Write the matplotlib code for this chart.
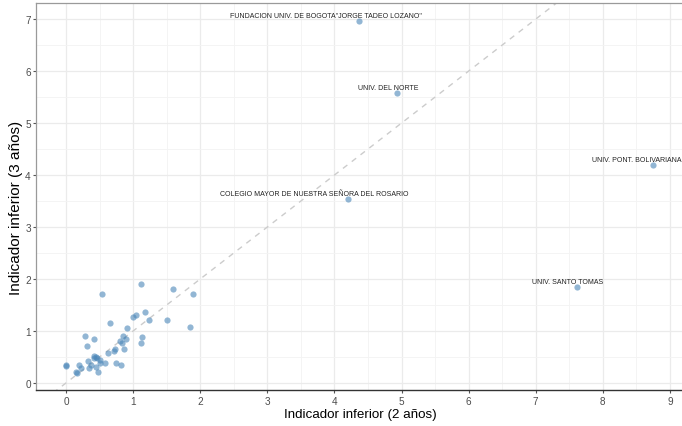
"""Scatter of indicador inferior, 2 vs 3 years
"""

import numpy as np
import matplotlib.pyplot as plt
from matplotlib.ticker import MultipleLocator

# data: unlabelled institutions
x_vals = [0.0, 0.0, 0.16, 0.15, 0.20, 0.23, 0.28, 0.32, 0.33, 0.34, 0.37,
          0.41, 0.42, 0.42, 0.44, 0.46, 0.47, 0.50, 0.51, 0.53, 0.58, 0.63,
          0.65, 0.71, 0.73, 0.75, 0.80, 0.83, 0.82, 0.85, 0.87, 0.90, 0.91,
          1.00, 1.04, 1.12, 1.12, 1.14, 1.17, 1.23, 1.50, 1.60, 1.85, 1.89,
          0.45]
y_vals = [0.32, 0.34, 0.19, 0.21, 0.35, 0.29, 0.90, 0.72, 0.42, 0.28, 0.35,
          0.52, 0.48, 0.85, 0.31, 0.48, 0.22, 0.39, 0.45, 1.72, 0.39, 0.57,
          1.16, 0.61, 0.65, 0.39, 0.81, 0.77, 0.34, 0.90, 0.66, 0.85, 1.05,
          1.27, 1.31, 1.90, 0.76, 0.89, 1.37, 1.21, 1.21, 1.80, 1.08, 1.72,
          0.50]

# labelled institutions
lab_names = ['FUNDACION UNIV. DE BOGOTA"JORGE TADEO LOZANO"',
             'UNIV. DEL NORTE',
             'UNIV. PONT. BOLIVARIANA',
             'COLEGIO MAYOR DE NUESTRA SEÑORA DEL ROSARIO',
             'UNIV. SANTO TOMAS']
lab_x = [4.37, 4.93, 8.75, 4.20, 7.62]
lab_y = [6.96, 5.58, 4.19, 3.54, 1.85]
lab_dx = [-24, -6, -11.5, -24, -7]   # label offsets (points)

point_col = '#4a86b8'
font = 'Liberation Sans'

fig = plt.figure(figsize=(6.82, 4.27), dpi=100)
ax = fig.add_axes([36/682, 1 - 391/427, 648/682, 387/427])

ax.set_xlim(-0.447, 9.21)
ax.set_ylim(-0.135, 7.31)

# grid
ax.xaxis.set_major_locator(MultipleLocator(1))
ax.yaxis.set_major_locator(MultipleLocator(1))
ax.xaxis.set_minor_locator(MultipleLocator(0.5))
ax.yaxis.set_minor_locator(MultipleLocator(0.5))
ax.grid(which='major', color='#ebebeb', lw=0.9)
ax.grid(which='minor', color='#f3f3f3', lw=0.6)
ax.set_axisbelow(True)

# reference line y = x
ref = np.array([-1, 10])
ax.plot(ref, ref, ls=(0, (4, 4)), color='#cccccc', lw=1.0, zorder=1)

all_x = x_vals + lab_x
all_y = y_vals + lab_y
ax.scatter(all_x, all_y, s=20, color=point_col, alpha=0.6, lw=0, zorder=3)

for name, px, py, dx in zip(lab_names, lab_x, lab_y, lab_dx):
    ax.annotate(name, (px, py), xytext=(dx, 3.8), textcoords='offset points',
                ha='center', va='center', fontsize=5.0, color='#222222',
                family=font)

# spines
for s in ['top', 'left']:
    ax.spines[s].set_color('#9a9a9a')
    ax.spines[s].set_linewidth(0.9)
ax.spines['right'].set_visible(False)
ax.spines['bottom'].set_color('#333333')
ax.spines['bottom'].set_linewidth(1.0)

ax.tick_params(which='major', length=2.5, width=0.8, color='#555555',
               labelsize=7.2, labelcolor='#4d4d4d')
ax.tick_params(axis='y', pad=1.2)
ax.tick_params(axis='x', pad=1.5)
ax.tick_params(which='minor', length=0)
for lbl in ax.get_xticklabels() + ax.get_yticklabels():
    lbl.set_family(font)

ax.set_xlabel('Indicador inferior (2 años)', fontsize=9.6, family=font,
              labelpad=1.5)
ax.set_ylabel('Indicador inferior (3 años)', fontsize=11, family=font,
              labelpad=1.5)
ax.yaxis.label.set_y((391 - 208) / 387)

fig.savefig('out.png', dpi=100)
